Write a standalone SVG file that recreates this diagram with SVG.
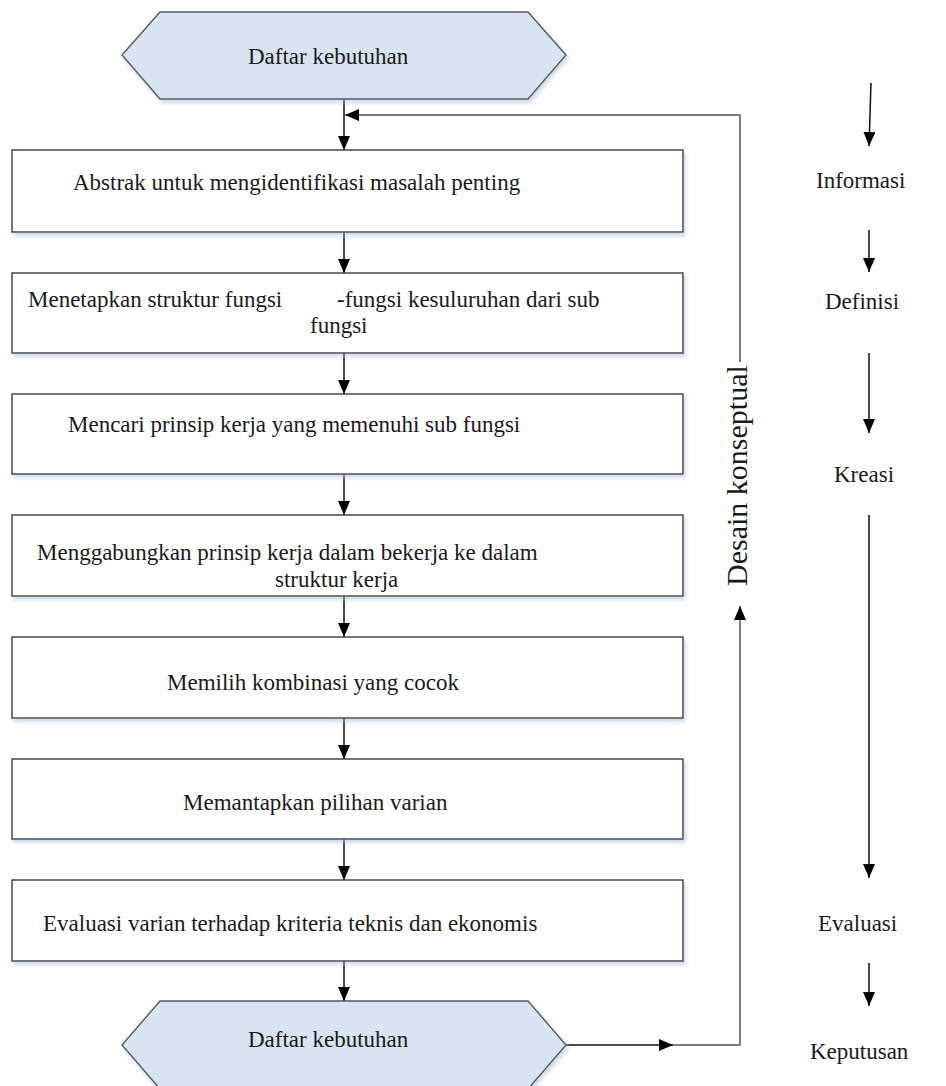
<svg xmlns="http://www.w3.org/2000/svg" width="946" height="1086" viewBox="0 0 946 1086">
  <style>
    .box { fill: #ffffff; stroke: #3a3a3a; stroke-width: 1.4; filter: url(#soft); }
    .hex { fill: #d8e4f1; stroke: #5a5a5a; stroke-width: 1.4; filter: url(#soft); }
    .lbl { font-family: "Liberation Serif", "Times New Roman", serif; font-size: 23px; fill: #1a1a1a; }
    .side { font-family: "Liberation Serif", "Times New Roman", serif; font-size: 23px; fill: #1a1a1a; }
    .vert { font-family: "Liberation Serif", "Times New Roman", serif; font-size: 30px; fill: #1a1a1a; }
    .flow { fill: none; stroke: #111; stroke-width: 1.5; }
    .loop { fill: none; stroke: #555; stroke-width: 1.5; }
  </style>
  <defs>
    <marker id="tip" viewBox="0 0 14 12" refX="14" refY="6" markerWidth="14" markerHeight="12" markerUnits="userSpaceOnUse" orient="auto">
      <path d="M0,0 L14,6 L0,12 z" fill="#000"/>
    </marker>
    <filter id="soft" x="-5%" y="-10%" width="110%" height="130%">
      <feDropShadow dx="2" dy="3" stdDeviation="2" flood-color="#9fb9d9" flood-opacity="0.55"/>
    </filter>
  </defs>

  <rect width="946" height="1086" fill="#ffffff"/>

  <!-- connectors -->
  <g id="connectors">
    <path class="flow" d="M344,99 L344,150" marker-end="url(#tip)"/>
    <path class="flow" d="M344,232 L344,273" marker-end="url(#tip)"/>
    <path class="flow" d="M344,353 L344,394" marker-end="url(#tip)"/>
    <path class="flow" d="M344,474 L344,515" marker-end="url(#tip)"/>
    <path class="flow" d="M344,596 L344,637" marker-end="url(#tip)"/>
    <path class="flow" d="M344,718 L344,759" marker-end="url(#tip)"/>
    <path class="flow" d="M344,839 L344,880" marker-end="url(#tip)"/>
    <path class="flow" d="M344,961 L344,1001" marker-end="url(#tip)"/>
    <!-- return loop through the conceptual design band -->
    <path class="flow" d="M566,1045 L673,1045" marker-end="url(#tip)"/>
    <path class="loop" d="M673,1045 L740,1045 L740,606" marker-end="url(#tip)"/>
    <path class="loop" d="M740,362 L740,115 L345,115" marker-end="url(#tip)"/>
    <!-- phase arrows on the right -->
    <path class="flow" d="M871,83 L869,146" marker-end="url(#tip)"/>
    <path class="flow" d="M869,230 L869,272" marker-end="url(#tip)"/>
    <path class="flow" d="M869,353 L869,433" marker-end="url(#tip)"/>
    <path class="flow" d="M869,515 L869,878" marker-end="url(#tip)"/>
    <path class="flow" d="M869,963 L869,1006" marker-end="url(#tip)"/>
  </g>

  <g id="start">
    <polygon class="hex" points="122,55 160,12 528,12 566,55 528,99 160,99"/>
    <text class="lbl" x="248" y="64">Daftar kebutuhan</text>
  </g>

  <g id="step1">
    <rect class="box" x="12" y="150" width="671" height="82"/>
    <text class="lbl" x="73" y="190">Abstrak untuk mengidentifikasi masalah penting</text>
  </g>

  <g id="step2">
    <rect class="box" x="12" y="273" width="671" height="80"/>
    <text class="lbl" x="28" y="307">Menetapkan struktur fungsi</text>
    <text class="lbl" x="337" y="307">-fungsi kesuluruhan dari sub</text>
    <text class="lbl" x="310" y="333">fungsi</text>
  </g>

  <g id="step3">
    <rect class="box" x="12" y="394" width="671" height="80"/>
    <text class="lbl" x="68" y="432">Mencari prinsip kerja yang memenuhi sub fungsi</text>
  </g>

  <g id="step4">
    <rect class="box" x="12" y="515" width="671" height="81"/>
    <text class="lbl" x="37" y="560">Menggabungkan prinsip kerja dalam bekerja ke dalam</text>
    <text class="lbl" x="275" y="587">struktur kerja</text>
  </g>

  <g id="step5">
    <rect class="box" x="12" y="637" width="671" height="81"/>
    <text class="lbl" x="167" y="690">Memilih kombinasi yang cocok</text>
  </g>

  <g id="step6">
    <rect class="box" x="12" y="759" width="671" height="80"/>
    <text class="lbl" x="183" y="810">Memantapkan pilihan varian</text>
  </g>

  <g id="step7">
    <rect class="box" x="12" y="880" width="671" height="81"/>
    <text class="lbl" x="43" y="931">Evaluasi varian terhadap kriteria teknis dan ekonomis</text>
  </g>

  <g id="end">
    <polygon class="hex" points="122,1045 160,1001 528,1001 566,1045 528,1089 160,1089"/>
    <text class="lbl" x="248" y="1047">Daftar kebutuhan</text>
  </g>

  <g id="band-label">
    <text class="vert" transform="translate(747,586) rotate(-90)">Desain konseptual</text>
  </g>

  <g id="phases">
    <text class="side" x="816" y="188">Informasi</text>
    <text class="side" x="825" y="309">Definisi</text>
    <text class="side" x="834" y="482">Kreasi</text>
    <text class="side" x="818" y="931">Evaluasi</text>
    <text class="side" x="810" y="1059">Keputusan</text>
  </g>
</svg>
